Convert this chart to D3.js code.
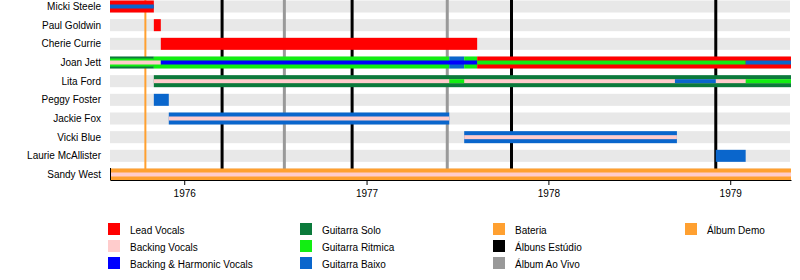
<!DOCTYPE html>
<html>
<head>
<meta charset="utf-8">
<script src="https://cdn.jsdelivr.net/npm/d3@7"></script>
<style>
  body { margin: 0; background: #fff; }
  svg { display: block; font-family: "Liberation Sans", Arial, sans-serif; }
</style>
</head>
<body>
<div id="chart-area"></div>
<script>
const members = ['Micki Steele', 'Paul Goldwin', 'Cherie Currie', 'Joan Jett', 'Lita Ford',
  'Peggy Foster', 'Jackie Fox', 'Vicki Blue', 'Laurie McAllister', 'Sandy West'];

const roles = ['Lead Vocals', 'Backing Vocals', 'Backing & Harmonic Vocals',
  'Guitarra Solo', 'Guitarra Ritmica', 'Guitarra Baixo', 'Bateria',
  'Álbuns Estúdio', 'Álbum Ao Vivo', 'Álbum Demo'];
const roleColors = ['#ff0000', '#ffcccc', '#0000ff', '#0b7a3b', '#12ee12', '#0a66cc',
  '#ffa030', '#000000', '#999999', '#ffa030'];

const timeStart = '1975-08-05';
const timeEnd = '1979-05-03';

// [member, role, from, to] - main (full width) bars
const mainBars = [
  ['Micki Steele', 'Lead Vocals', '1975-08-05', '1975-11-01'],
  ['Paul Goldwin', 'Lead Vocals', '1975-11-01', '1975-11-15'],
  ['Cherie Currie', 'Lead Vocals', '1975-11-15', '1977-08-11'],
  ['Joan Jett', 'Guitarra Solo', '1975-08-05', '1975-11-01'],
  ['Joan Jett', 'Guitarra Ritmica', '1975-11-01', '1977-06-16'],
  ['Joan Jett', 'Guitarra Baixo', '1977-06-16', '1977-07-16'],
  ['Joan Jett', 'Guitarra Ritmica', '1977-07-16', '1977-08-11'],
  ['Joan Jett', 'Lead Vocals', '1977-08-11', '1979-05-03'],
  ['Lita Ford', 'Guitarra Solo', '1975-11-01', '1979-05-03'],
  ['Peggy Foster', 'Guitarra Baixo', '1975-11-01', '1975-12-01'],
  ['Jackie Fox', 'Guitarra Baixo', '1975-12-01', '1977-06-16'],
  ['Vicki Blue', 'Guitarra Baixo', '1977-07-16', '1978-09-16'],
  ['Laurie McAllister', 'Guitarra Baixo', '1978-12-03', '1979-02-01'],
  ['Sandy West', 'Bateria', '1975-08-05', '1979-05-03']
];

// middle width bars
const midBars = [
  ['Joan Jett', 'Guitarra Ritmica', '1975-08-05', '1975-11-01']
];

// thin centre bars
const thinBars = [
  ['Micki Steele', 'Guitarra Baixo', '1975-08-05', '1975-11-01'],
  ['Joan Jett', 'Backing Vocals', '1975-08-05', '1975-11-15'],
  ['Joan Jett', 'Backing & Harmonic Vocals', '1975-11-15', '1977-08-11'],
  ['Joan Jett', 'Guitarra Ritmica', '1977-08-11', '1979-02-01'],
  ['Joan Jett', 'Guitarra Baixo', '1979-02-01', '1979-05-03'],
  ['Lita Ford', 'Backing Vocals', '1975-11-01', '1979-05-03'],
  ['Lita Ford', 'Guitarra Ritmica', '1977-06-16', '1977-07-16'],
  ['Lita Ford', 'Guitarra Baixo', '1978-09-12', '1978-12-03'],
  ['Lita Ford', 'Guitarra Ritmica', '1979-02-01', '1979-05-03'],
  ['Jackie Fox', 'Backing Vocals', '1975-12-01', '1977-06-16'],
  ['Vicki Blue', 'Backing Vocals', '1977-07-16', '1978-09-16'],
  ['Sandy West', 'Backing Vocals', '1975-08-05', '1979-05-03']
];

// [kind, date]
const albumLines = [
  ['Álbum Demo', '1975-10-15'],
  ['Álbuns Estúdio', '1976-03-17'],
  ['Álbum Ao Vivo', '1976-07-20'],
  ['Álbuns Estúdio', '1976-12-03'],
  ['Álbum Ao Vivo', '1977-06-12'],
  ['Álbuns Estúdio', '1977-10-19'],
  ['Álbuns Estúdio', '1978-12-03']
];

const legendColumns = [
  ['Lead Vocals', 'Backing Vocals', 'Backing & Harmonic Vocals'],
  ['Guitarra Solo', 'Guitarra Ritmica', 'Guitarra Baixo'],
  ['Bateria', 'Álbuns Estúdio', 'Álbum Ao Vivo'],
  ['Álbum Demo']
];

const W = 800, H = 280;
const plot = {left: 110, right: 791, top: 0, bottom: 180};
const parse = d3.timeParse('%Y-%m-%d');

const svg = d3.select('#chart-area').append('svg')
  .attr('width', W)
  .attr('height', H);

const x = d3.scaleTime()
  .domain([parse(timeStart), parse(timeEnd)])
  .range([plot.left, plot.right]);

const y = d3.scalePoint()
  .domain(members)
  .range([6.5, 174.5]);

const color = d3.scaleOrdinal().domain(roles).range(roleColors);

// background stripes
svg.append('g').selectAll('rect')
  .data(members)
  .enter().append('rect')
  .attr('x', plot.left)
  .attr('width', plot.right - 1 - plot.left)
  .attr('y', d => y(d) - 6)
  .attr('height', 12)
  .attr('fill', '#e8e8e8');

// album lines
svg.append('g').selectAll('line')
  .data(albumLines)
  .enter().append('line')
  .attr('x1', d => x(parse(d[1])))
  .attr('x2', d => x(parse(d[1])))
  .attr('y1', 0)
  .attr('y2', plot.bottom)
  .attr('stroke', d => color(d[0]))
  .attr('stroke-width', d => d[0] === 'Álbum Demo' ? 2 : 3);

function drawBars(data, h) {
  svg.append('g').selectAll('rect')
    .data(data)
    .enter().append('rect')
    .attr('x', d => x(parse(d[2])))
    .attr('width', d => x(parse(d[3])) - x(parse(d[2])))
    .attr('y', d => y(d[0]) - h / 2)
    .attr('height', h)
    .attr('fill', d => color(d[1]));
}

drawBars(mainBars, 12);
drawBars(midBars, 8);
drawBars(thinBars, 4);

// member labels
svg.append('g').selectAll('text')
  .data(members)
  .enter().append('text')
  .attr('x', 101)
  .attr('y', d => y(d))
  .attr('dy', '0.35em')
  .attr('text-anchor', 'end')
  .attr('font-size', 10)
  .attr('fill', '#000')
  .text(d => d);

// axis
const xAxis = svg.append('g')
  .attr('transform', `translate(0, ${plot.bottom})`)
  .call(d3.axisBottom(x)
    .ticks(d3.timeYear.every(1))
    .tickFormat(d3.timeFormat('%Y'))
    .tickSize(5)
    .tickSizeOuter(0)
    .tickPadding(5));
xAxis.selectAll('text')
  .attr('font-size', 10)
  .attr('font-family', '"Liberation Sans", Arial, sans-serif');

svg.append('line')
  .attr('x1', plot.left + 0.5)
  .attr('x2', plot.left + 0.5)
  .attr('y1', 168)
  .attr('y2', plot.bottom)
  .attr('stroke', '#000');

// legend
const legendX = [108, 300, 493, 685];
legendColumns.forEach((col, c) => {
  col.forEach((name, i) => {
    const row = svg.append('g')
      .attr('transform', `translate(${legendX[c]}, ${223 + i * 17})`);
    row.append('rect')
      .attr('width', 12)
      .attr('height', 12)
      .attr('fill', color(name));
    row.append('text')
      .attr('x', 22)
      .attr('y', 11)
      .attr('font-size', 10)
      .attr('fill', '#000')
      .text(name);
  });
});
</script>
</body>
</html>
